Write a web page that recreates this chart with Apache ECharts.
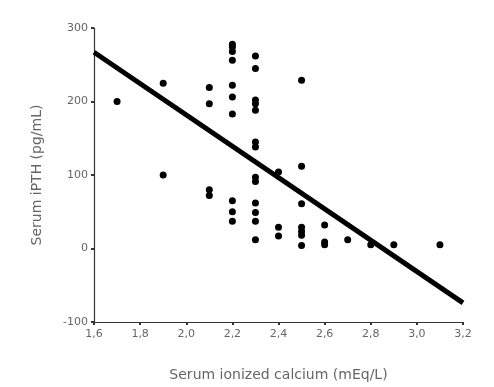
<!DOCTYPE html>
<html>
<head>
<meta charset="utf-8">
<script src="https://cdn.jsdelivr.net/npm/echarts@6/dist/echarts.min.js"></script>
<style>
  html, body { margin: 0; padding: 0; background: #fff; }
  #chart { width: 494px; height: 387px; }
</style>
</head>
<body>
<div id="chart"></div>
<script>
// 點資料 (x = 離子鈣, y = iPTH)
const calcium = [
    1.7,
    1.9, 1.9,
    2.1, 2.1, 2.1, 2.1,
    2.2, 2.2, 2.2, 2.2, 2.2, 2.2, 2.2, 2.2, 2.2, 2.2,
    2.3, 2.3, 2.3, 2.3, 2.3, 2.3, 2.3, 2.3, 2.3, 2.3, 2.3, 2.3, 2.3,
    2.4, 2.4, 2.4,
    2.5, 2.5, 2.5, 2.5, 2.5, 2.5, 2.5,
    2.6, 2.6, 2.6,
    2.7, 2.8, 2.9, 3.1
];
const ipth = [
    200,
    225, 100,
    219, 197, 80, 72,
    278, 274, 268, 256, 222, 206, 183, 65, 50, 37,
    262, 245, 202, 197, 188, 145, 138, 97, 91, 62, 49, 37, 12,
    104, 29, 17,
    229, 112, 61, 29, 23, 18, 4,
    32, 9, 5,
    12, 5, 5, 5
];

// 回歸線
const fitX = [1.6, 3.2];
const fitY = [267, -74];

const xTicks = { min: 1.6, max: 3.2, step: 0.2 };
const yTicks = { min: -100, max: 300, step: 100 };

const chart = echarts.init(document.getElementById('chart'));
const textColor = '#666';
const axisColor = '#333';
const font = 'DejaVu Sans';

chart.setOption({
    animation: false,
    backgroundColor: '#fff',
    grid: { left: 94, top: 28, right: 31, bottom: 65 },
    xAxis: {
        type: 'value',
        min: xTicks.min, max: xTicks.max, interval: xTicks.step,
        name: 'Serum ionized calcium (mEq/L)',
        nameLocation: 'middle', nameGap: 46,
        nameTextStyle: { color: textColor, fontSize: 14, fontFamily: font },
        axisLine: { onZero: false, lineStyle: { color: axisColor, width: 1.2 } },
        axisTick: { length: 3, lineStyle: { color: axisColor, width: 2 } },
        axisLabel: {
            color: textColor, fontSize: 11, fontFamily: font, margin: 7,
            formatter: v => v.toFixed(1).replace('.', ',')
        },
        splitLine: { show: false }
    },
    yAxis: {
        type: 'value',
        min: yTicks.min, max: yTicks.max, interval: yTicks.step,
        name: 'Serum iPTH (pg/mL)',
        nameLocation: 'middle', nameGap: 50,
        nameTextStyle: { color: textColor, fontSize: 14, fontFamily: font },
        axisLine: { show: true, onZero: false, lineStyle: { color: axisColor, width: 1.2 } },
        axisTick: { show: true, length: 3, lineStyle: { color: axisColor, width: 2 } },
        axisLabel: { color: textColor, fontSize: 11, fontFamily: font, margin: 6 },
        splitLine: { show: false }
    },
    series: [
        {
            type: 'scatter',
            data: calcium.map((x, i) => [x, ipth[i]]),
            symbolSize: 7,
            itemStyle: { color: '#000', opacity: 1 }
        },
        {
            type: 'line',
            data: fitX.map((x, i) => [x, fitY[i]]),
            showSymbol: false,
            lineStyle: { color: '#000', width: 5 }
        }
    ]
});
</script>
</body>
</html>
